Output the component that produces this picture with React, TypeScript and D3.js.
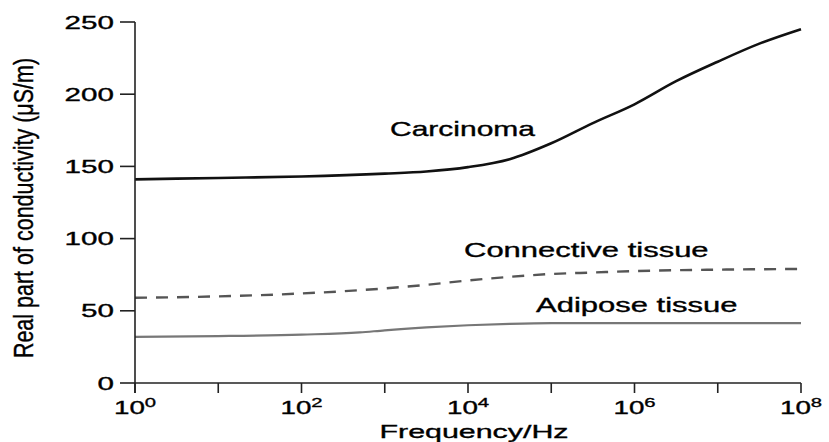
import React from "react";
import * as d3 from "d3";

// decades (log10 of frequency in Hz) and the values read at them, in µS/m
const carcinomaDec = [0, 1, 2, 3, 3.5, 4, 4.5, 5, 5.5, 6, 6.5, 7, 7.5, 8];
const carcinomaVal = [141, 142, 143, 145, 146.5, 149.5, 155, 166, 180, 193, 209, 222.5, 235, 245];

const connectiveDec = [0, 1, 2, 3, 3.5, 4, 4.5, 5, 5.5, 6, 7, 8];
const connectiveVal = [59, 60, 62, 65.5, 68, 71, 73.5, 75.5, 76.5, 77.5, 78.5, 79];

const adiposeDec = [0, 1, 2, 2.7, 3, 3.5, 4, 4.5, 5, 6, 7, 8];
const adiposeVal = [32, 32.5, 33.5, 35, 36.5, 38.5, 40, 41, 41.5, 41.5, 41.5, 41.5];

const yTicks = [0, 50, 100, 150, 200, 250];
const xTickExp = [0, 1, 2, 3, 4, 5, 6, 7, 8];
const xLabelExp = [0, 2, 4, 6, 8];

const W = 829, H = 442;
const margin = {left: 135, right: 28, top: 22, bottom: 59};
const FONT = "'Liberation Sans', Arial, Helvetica, sans-serif";

const x = d3.scaleLog().domain([1, 1e8]).range([margin.left, W - margin.right]);
const y = d3.scaleLinear().domain([0, 250]).range([H - margin.bottom, margin.top]);

const toPts = (dec: number[], val: number[]) => dec.map((d, i) => ({f: Math.pow(10, d), v: val[i]}));

const line = d3.line<{f: number, v: number}>()
    .curve(d3.curveMonotoneX)
    .x(d => x(d.f))
    .y(d => y(d.v));

// the original figure's lettering is stretched sideways
function SText(props: {x: number, y: number, sx: number, size: number, anchor?: string, children: any}) {
    return <text transform={`translate(${props.x},${props.y}) scale(${props.sx},1)`}
                 fontFamily={FONT} fontSize={props.size} fill="#000" stroke="#000" strokeWidth={0.35}
                 textAnchor={props.anchor || "start"}>{props.children}</text>
}

export default function App() {
    const y0 = y(0);
    return (
        <svg width={W} height={H} style={{position: "absolute", left: 0, top: 0, background: "#fff"}}>
            {/* curves */}
            <path d={line(toPts(adiposeDec, adiposeVal)) || ""} fill="none" stroke="#777" strokeWidth={2.2}/>
            <path d={line(toPts(connectiveDec, connectiveVal)) || ""} fill="none" stroke="#555"
                  strokeWidth={2.4} strokeDasharray="12,9"/>
            <path d={line(toPts(carcinomaDec, carcinomaVal)) || ""} fill="none" stroke="#111" strokeWidth={2.6}/>

            {/* axes */}
            <line x1={x(1)} x2={x(1e8)} y1={y0} y2={y0} stroke="#222" strokeWidth={1.6}/>
            <line x1={x(1)} x2={x(1)} y1={y(250)} y2={y0 + 10} stroke="#222" strokeWidth={1.6}/>
            {yTicks.map(t =>
                <g key={"y" + t}>
                    <line x1={x(1) - 15} x2={x(1)} y1={y(t)} y2={y(t)} stroke="#222" strokeWidth={1.6}/>
                    <SText x={114} y={y(t) + 6.5} sx={1.6} size={18.5} anchor="end">{t}</SText>
                </g>
            )}
            {xTickExp.map(e =>
                <line key={"x" + e} x1={x(Math.pow(10, e))} x2={x(Math.pow(10, e))} y1={y0} y2={y0 + 10}
                      stroke="#222" strokeWidth={1.6}/>
            )}
            {xLabelExp.map(e =>
                <SText key={"xl" + e} x={x(Math.pow(10, e))} y={414} sx={1.5} size={18.5} anchor="middle">
                    10<tspan dy={-7.5} fontSize={13.5}>{e}</tspan>
                </SText>
            )}

            {/* axis titles */}
            <SText x={474} y={438} sx={1.6} size={19} anchor="middle">Frequency/Hz</SText>
            <text transform="translate(33,208) scale(1.3,1) rotate(-90)" fontFamily={FONT} fontSize={21.5}
                  textAnchor="middle" fill="#000" stroke="#000" strokeWidth={0.3}>Real part of conductivity (μS/m)</text>

            {/* curve labels */}
            <SText x={390} y={136} sx={1.5} size={20}>Carcinoma</SText>
            <SText x={464} y={257} sx={1.55} size={20}>Connective tissue</SText>
            <SText x={536} y={312} sx={1.55} size={20}>Adipose tissue</SText>
        </svg>
    );
}
